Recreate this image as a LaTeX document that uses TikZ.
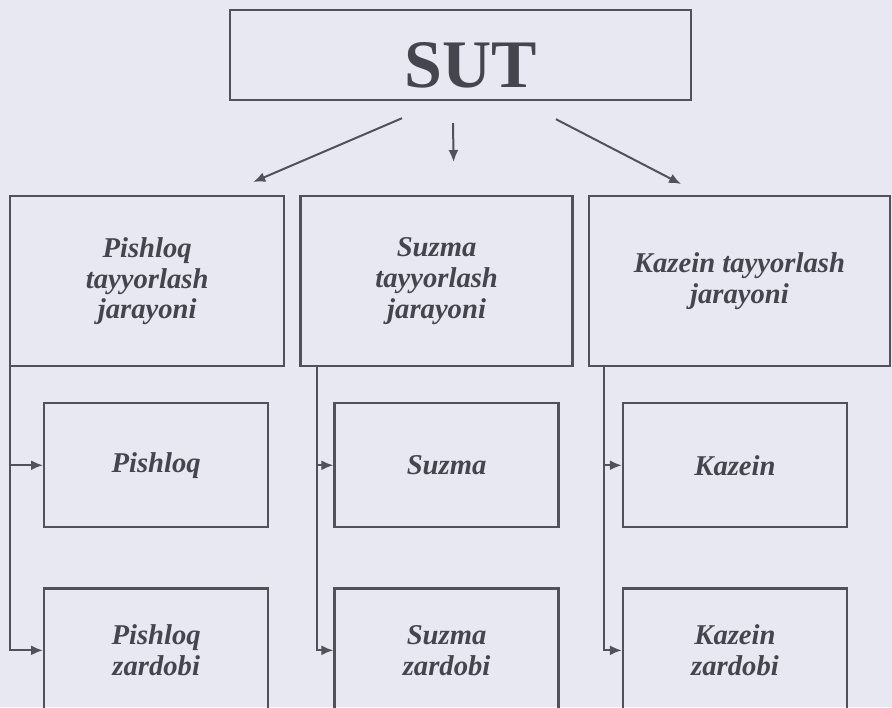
\documentclass[tikz,border=0pt]{standalone}
\usepackage{fontspec}
\setmainfont{Liberation Serif}
\usetikzlibrary{
arrows.meta,
positioning
}
\definecolor{SUTPage}{HTML}{E7E8F2}
\definecolor{SUTLine}{HTML}{505159}
\definecolor{SUTText}{HTML}{44454D}
\tikzset{
sutbox/.style={draw=SUTLine, line width=1.8pt, minimum width=345.75pt, minimum height=67.5pt,
  inner sep=0pt, text=SUTText, font=\fontsize{51}{51}\selectfont\bfseries},
procbox/.style={draw=SUTLine, line width=1.8pt, align=center, minimum height=127.5pt,
  text=SUTText, font=\fontsize{21.5}{23}\selectfont\bfseries\itshape},
prodbox/.style={draw=SUTLine, line width=1.8pt, align=center, minimum width=168pt,
  minimum height=93pt, text=SUTText, font=\fontsize{21.5}{23}\selectfont\bfseries\itshape},
sutarrow/.style={-{Latex[length=9pt,width=7.5pt]}, line width=1.5pt, draw=SUTLine},
flowarrow/.style={-{Latex[length=9pt,width=7.5pt]}, line width=1.5pt, draw=SUTLine}
}

\begin{document}
\begin{tikzpicture}[node distance=10.5pt and 10.5pt]
\useasboundingbox (0,0) rectangle (669pt,-530.25pt);
\fill[SUTPage] (0,0) rectangle (669pt,-530.25pt);
\clip (0,0) rectangle (669pt,-530.25pt);

\node[sutbox] (sut) at (345.375pt,-41.25pt) {\raisebox{-24.5pt}[0pt][0pt]{\hspace*{15pt}SUT}};

% jarayonlar
\node[procbox, minimum width=205.5pt, anchor=north west] (pjar) at (6.75pt,-146.25pt)
  {Pishloq\\tayyorlash\\jarayoni};
\node[procbox, minimum width=204pt, right=of pjar] (sjar) {Suzma\\tayyorlash\\jarayoni};
\node[procbox, minimum width=225.75pt, right=of sjar] (kjar) {Kazein tayyorlash\\jarayoni};

% mahsulotlar
\node[prodbox, below right=26pt and 25.5pt of pjar.south west] (pish) {Pishloq};
\node[prodbox, below=44pt of pish] (pishz) {Pishloq\\zardobi};
\node[prodbox, below right=26pt and 25.5pt of sjar.south west] (suz) {Suzma};
\node[prodbox, below=44pt of suz] (suzz) {Suzma\\zardobi};
\node[prodbox, below right=26pt and 25.5pt of kjar.south west] (kaz) {Kazein};
\node[prodbox, below=44pt of kaz] (kazz) {Kazein\\zardobi};

\draw[sutarrow] ([shift={(-43.875pt,-12.75pt)}]sut.south) -- ([shift={(79.5pt,9.75pt)}]pjar.north);
\draw[sutarrow] ([shift={(-5.625pt,-16.5pt)}]sut.south) -- ([shift={(12.75pt,24.75pt)}]sjar.north);
\draw[sutarrow] ([shift={(71.6pt,-13.5pt)}]sut.south) -- ([shift={(-43.875pt,8.25pt)}]kjar.north);

\coordinate (ptrunk) at ([xshift=1pt]pjar.south west);
\coordinate (strunk) at ([xshift=13pt]sjar.south west);
\coordinate (ktrunk) at ([xshift=12pt]kjar.south west);

\draw[flowarrow] (ptrunk) |- (pish);
\draw[flowarrow] (ptrunk) |- (pishz);
\draw[flowarrow] (strunk) |- (suz);
\draw[flowarrow] (strunk) |- (suzz);
\draw[flowarrow] (ktrunk) |- (kaz);
\draw[flowarrow] (ktrunk) |- (kazz);
\end{tikzpicture}
\end{document}
